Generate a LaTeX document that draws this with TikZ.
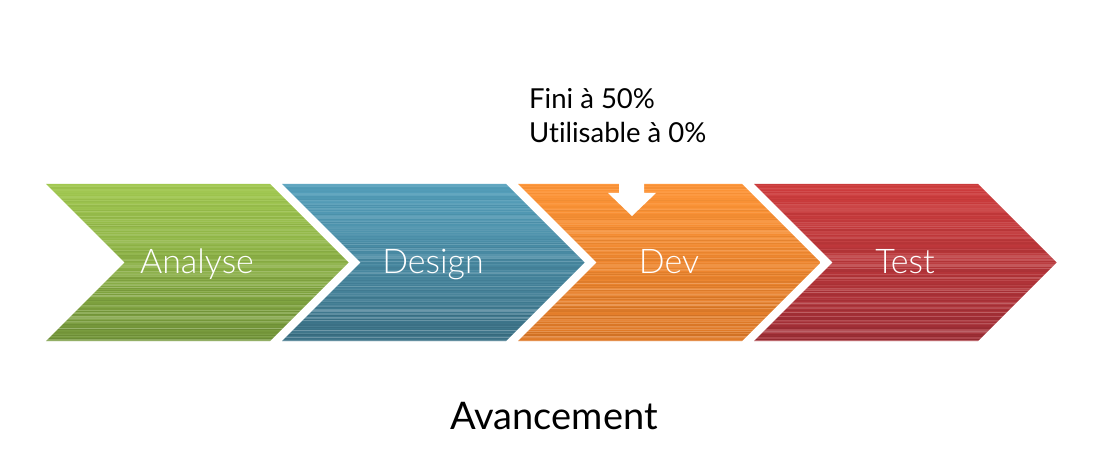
\documentclass[tikz,border=0pt]{standalone}
\usepackage{fontspec}
\setmainfont[Ligatures=NoCommon]{Lato}
\newfontfamily\lightfont[Ligatures=NoCommon]{Lato Light}
\begin{document}
\begin{tikzpicture}[x=1pt,y=-1pt,
  label/.style={text=white,font=\lightfont\fontsize{34}{40}\selectfont,anchor=base,inner sep=0pt}]
\useasboundingbox (0,0) rectangle (1097,465);
\definecolor{gtop}{HTML}{A2C950}\definecolor{gbot}{HTML}{74973A}
\definecolor{btop}{HTML}{54A0BC}\definecolor{bbot}{HTML}{3B7186}
\definecolor{otop}{HTML}{FF9638}\definecolor{obot}{HTML}{DE7826}
\definecolor{rtop}{HTML}{D03D3D}\definecolor{rbot}{HTML}{A22F37}
\pgfmathsetseed{7}
% one striped chevron: left x, top colour, bottom colour, node name, text
\newcommand\chev[5]{%
  \begin{scope}
    \path[clip] (#1,184) -- ++(224,0) -- ++(78.5,78.5) -- ++(-78.5,78.5)
      -- ++(-224,0) -- ++(78.5,-78.5) -- cycle;
    \shade[top color=#2,bottom color=#3] (#1,183) rectangle ++(303,159);
    \foreach \yy in {184,185,...,341}{%
      \pgfmathsetmacro\pick{rnd}%
      \pgfmathsetmacro\op{rnd*(0.35+0.65*(\yy-184)/157)}%
      \ifdim\pick pt<0.55pt
        \draw[white,opacity=0.28*\op,line width=1pt] (#1,\yy+0.5) -- ++(303,0);
      \else
        \draw[black,opacity=0.10*\op,line width=1pt] (#1,\yy+0.5) -- ++(303,0);
      \fi}
  \end{scope}
  \node[label] (#4) at (#1+151,273) {#5};}
\chev{46}{gtop}{gbot}{analyse}{Analyse}
\chev{282}{btop}{bbot}{design}{Design}
\chev{518}{otop}{obot}{dev}{Dev}
\chev{754}{rtop}{rbot}{test}{Test}
% white marker arrow pointing into Dev
\fill[white] (619,182) -- (644,182) -- (644,193) -- (656,193) -- (632,216)
  -- (608,193) -- (619,193) -- cycle;
\node[anchor=base west,align=left,inner sep=0pt,
  font=\fontsize{27.5}{34}\selectfont] (note) at (529,143)
  {Fini à 50\%\\Utilisable à 0\%};
\node[anchor=base,inner sep=0pt,font=\fontsize{38}{44}\selectfont] (title)
  at (554,429) {Avancement};
\end{tikzpicture}
\end{document}
